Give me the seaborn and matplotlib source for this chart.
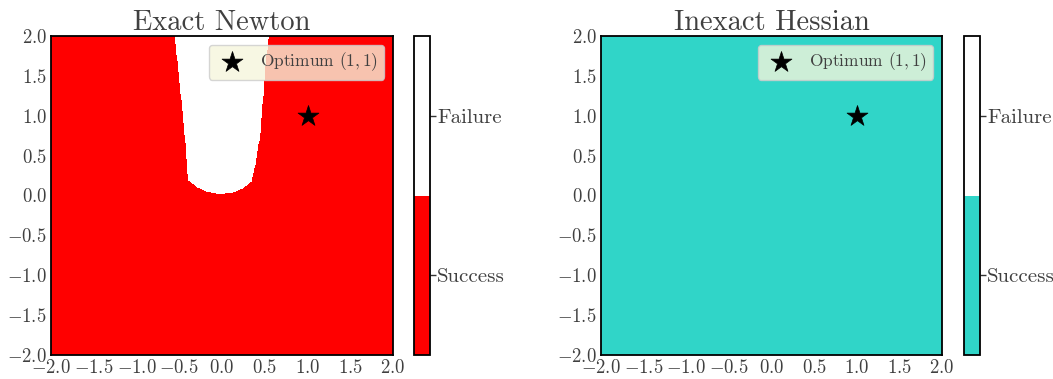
import numpy as np
import matplotlib
matplotlib.use("Agg")
import matplotlib.pyplot as plt
from matplotlib.colors import ListedColormap, Normalize
from matplotlib.cm import ScalarMappable
from matplotlib.path import Path
import seaborn as sns

# Outline of the region of starting points where each method fails
newton_fail_x = [-0.553, -0.514, -0.474, -0.436, -0.409, -0.397, -0.299, -0.183,
                 -0.027, 0.128, 0.245, 0.343, 0.381, 0.420, 0.448, 0.478, 0.506, 0.548]
newton_fail_y = [2.0, 1.582, 1.164, 0.746, 0.329, 0.194, 0.110, 0.048,
                 0.015, 0.035, 0.090, 0.173, 0.320, 0.571, 0.746, 1.164, 1.582, 2.0]
hessian_fail_x = []
hessian_fail_y = []

optimum = (1.0, 1.0)
titles = ["Exact Newton", "Inexact Hessian"]
success_colors = ["#ff0000", "#30d5c8"]
outcome_labels = ["Success", "Failure"]
grid_range = (-2.0, 2.0)

sns.set_style("white")
plt.rcParams.update({
    "font.family": ["cmr10"],
    "mathtext.fontset": "cm",
    "axes.formatter.use_mathtext": True,
    "axes.unicode_minus": True,
    "text.color": "0.25",
    "xtick.color": "0.25",
    "ytick.color": "0.25",
    "axes.edgecolor": "black",
    "axes.linewidth": 1.3,
})

fig = plt.figure(figsize=(10.53, 3.79), dpi=100)
W, H = 1053, 379
ax_boxes = [(51, 342), (601, 341)]
cb_boxes = [(414, 16), (964, 16)]
top, bottom = 36, 355

n = 600
g = np.linspace(grid_range[0], grid_range[1], n)
GX, GY = np.meshgrid(g, g)
pts = np.column_stack([GX.ravel(), GY.ravel()])

for i, (fx, fy) in enumerate([(newton_fail_x, newton_fail_y),
                              (hessian_fail_x, hessian_fail_y)]):
    l, w = ax_boxes[i]
    ax = fig.add_axes([l / W, (H - bottom) / H, w / W, (bottom - top) / H])
    cmap = ListedColormap([success_colors[i], "white"])
    if len(fx) > 2:
        poly = Path(np.column_stack([fx + [fx[0]], fy + [fy[0]]]))
        fail = poly.contains_points(pts).reshape(GX.shape).astype(float)
    else:
        fail = np.zeros_like(GX)
    ax.imshow(fail, extent=[*grid_range, *grid_range], origin="lower",
              cmap=cmap, vmin=0, vmax=1, aspect="auto", interpolation="nearest")
    sns.scatterplot(x=[optimum[0]], y=[optimum[1]], marker="*", s=250,
                    color="black", edgecolor="black", linewidth=0.5,
                    label=r"Optimum $(1, 1)$", ax=ax, zorder=5)
    ax.set_xlim(*grid_range)
    ax.set_ylim(*grid_range)
    ax.set_xticks(np.arange(-2, 2.01, 0.5))
    ax.set_yticks(np.arange(-2, 2.01, 0.5))
    ax.tick_params(labelsize=13.5, length=0, pad=3)
    ax.set_title(titles[i], fontsize=20.5, pad=4)
    leg = ax.legend(loc="upper right", fontsize=12.5, facecolor="beige",
                    framealpha=0.8, edgecolor="0.8", fancybox=True,
                    borderaxespad=0.5, handletextpad=0.6, borderpad=0.35,
                    handlelength=2.0)
    for t in leg.get_texts():
        t.set_color("0.25")

    cl, cw = cb_boxes[i]
    cax = fig.add_axes([cl / W, (H - bottom) / H, cw / W, (bottom - top) / H])
    sm = ScalarMappable(norm=Normalize(0, 1), cmap=cmap)
    cb = fig.colorbar(sm, cax=cax, ticks=[0.25, 0.75])
    cb.ax.set_yticklabels(outcome_labels)
    cb.ax.tick_params(right=True, length=4, width=1, labelsize=15, pad=1,
                      color="0.2")
    cb.outline.set_linewidth(1.3)
    cb.outline.set_edgecolor("black")

fig.savefig("out.png", dpi=100)
